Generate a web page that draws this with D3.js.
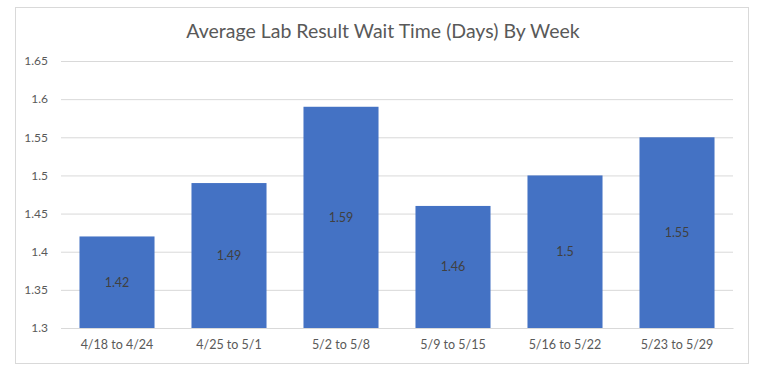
<!DOCTYPE html>
<html>
<head>
<meta charset="utf-8">
<script src="https://cdn.jsdelivr.net/npm/d3@7"></script>
<style>
  body { margin: 0; background: #fff; }
  text { font-family: Lato, "Open Sans", sans-serif; }
</style>
</head>
<body>
<svg width="768" height="381"></svg>
<script>
var weeks = ["4/18 to 4/24", "4/25 to 5/1", "5/2 to 5/8", "5/9 to 5/15", "5/16 to 5/22", "5/23 to 5/29"];
var waitDays = [1.42, 1.49, 1.59, 1.46, 1.5, 1.55];
var yTicks = [1.3, 1.35, 1.4, 1.45, 1.5, 1.55, 1.6, 1.65];

var svg = d3.select("svg"),
    margin = {left: 61, right: 35, top: 61, bottom: 53},
    width = +svg.attr("width"),
    height = +svg.attr("height");

// chart frame
svg.append("rect")
  .attr("x", 15.5).attr("y", 7.5)
  .attr("width", 733).attr("height", 356)
  .attr("fill", "#fff")
  .attr("stroke", "#d9d9d9");

svg.append("text")
  .attr("x", 383).attr("y", 38)
  .attr("text-anchor", "middle")
  .attr("fill", "#595959")
  .style("font-size", "19.5px")
  .text("Average Lab Result Wait Time (Days) By Week");

var x = d3.scaleBand()
  .domain(weeks)
  .range([margin.left, width - margin.right])
  .paddingInner(0.33)
  .paddingOuter(0.165);

var y = d3.scaleLinear()
  .domain([1.3, 1.65])
  .range([height - margin.bottom, margin.top]);

var yAxis = svg.append("g")
  .attr("transform", "translate(" + margin.left + ",0)")
  .call(d3.axisLeft(y).tickValues(yTicks).tickFormat(d3.format("")).tickSize(-(width - margin.left - margin.right)).tickPadding(13));
yAxis.select(".domain").remove();
yAxis.selectAll("line").attr("stroke", "#d9d9d9");
yAxis.selectAll("text").attr("fill", "#595959").style("font-size", "12px");

var xAxis = svg.append("g")
  .attr("transform", "translate(0," + (height - margin.bottom) + ")")
  .call(d3.axisBottom(x).tickSize(0).tickPadding(12));
xAxis.select(".domain").attr("stroke", "#d9d9d9");
xAxis.selectAll("text").attr("fill", "#595959").style("font-size", "12.5px");

var data = weeks.map(function(w, i) { return {week: w, value: waitDays[i]}; });

svg.append("g").selectAll("rect")
  .data(data)
  .enter().append("rect")
  .attr("x", function(d) { return x(d.week); })
  .attr("y", function(d) { return y(d.value); })
  .attr("width", x.bandwidth())
  .attr("height", function(d) { return y(1.3) - y(d.value); })
  .attr("fill", "#4472c4");

svg.append("g").selectAll("text")
  .data(data)
  .enter().append("text")
  .attr("x", function(d) { return x(d.week) + x.bandwidth() / 2; })
  .attr("y", function(d) { return (y(d.value) + y(1.3)) / 2; })
  .attr("dy", "0.35em")
  .attr("text-anchor", "middle")
  .attr("fill", "#404040")
  .style("font-size", "12.5px")
  .text(function(d) { return d.value; });
</script>
</body>
</html>
